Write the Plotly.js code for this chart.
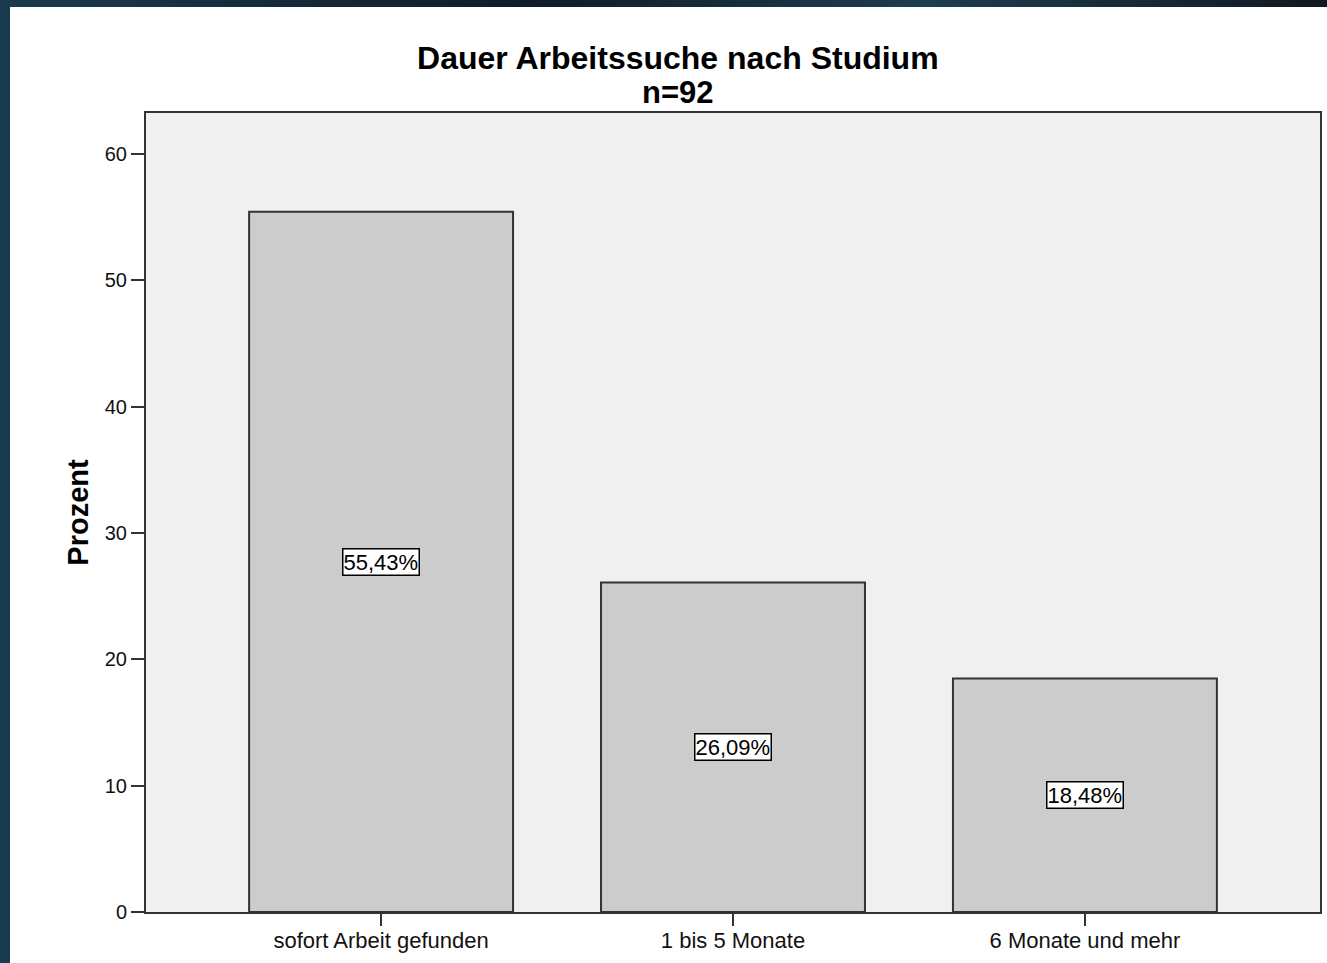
<!DOCTYPE html>
<html>
<head>
<meta charset="utf-8">
<script src="https://cdn.plot.ly/plotly-3.0.1.min.js"></script>
<style>
  html, body { margin: 0; padding: 0; width: 1327px; height: 963px; overflow: hidden;
    background: linear-gradient(90deg, #1a3a4e 0%, #0f1c28 40%, #1d3d50 70%, #101820 100%); }
  #chart { position: absolute; left: 10px; top: 7px; width: 1317px; height: 956px; background: #fff; }
</style>
</head>
<body>
<div id="chart"></div>
<script>
const categories = ["sofort Arbeit gefunden", "1 bis 5 Monate", "6 Monate und mehr"];
const percentValues = [55.43, 26.09, 18.48];
const yTickValues = [0, 10, 20, 30, 40, 50, 60];
const chartTitle = "Dauer Arbeitssuche nach Studium";
const chartSubtitle = "n=92";
const yAxisTitle = "Prozent";

const FONT = 'Liberation Sans, Arial, sans-serif';
const labelText = percentValues.map(v => v.toFixed(2).replace('.', ',') + '%');

const trace = {
  type: 'bar',
  x: categories,
  y: percentValues,
  width: 0.75,
  marker: { color: '#cccccc', line: { color: '#333333', width: 2 } },
  hoverinfo: 'none'
};

const annotations = categories.map((c, i) => ({
  x: c, y: percentValues[i] / 2, xref: 'x', yref: 'y',
  text: labelText[i], showarrow: false,
  font: { family: FONT, size: 22, color: '#000' },
  bgcolor: '#ffffff', bordercolor: '#000000', borderwidth: 1.5, borderpad: 0
}));

annotations.push({
  text: chartSubtitle, showarrow: false,
  xref: 'paper', x: 0.453, xanchor: 'center',
  yref: 'paper', y: 1 + (106 - 86) / 799, yanchor: 'middle',
  font: { family: FONT, size: 31, color: '#000', weight: 'bold' }
});

const layout = {
  width: 1317, height: 956,
  margin: { l: 136, r: 7, t: 106, b: 51 },
  paper_bgcolor: '#ffffff',
  plot_bgcolor: '#f0f0f0',
  showlegend: false,
  title: {
    text: chartTitle,
    font: { family: FONT, size: 32, color: '#000', weight: 'bold' },
    x: 0.453, xref: 'paper', xanchor: 'center',
    y: 1 - 51 / 956, yref: 'container', yanchor: 'middle'
  },
  xaxis: {
    type: 'category',
    range: [-0.668, 2.668],
    showline: true, mirror: true, linecolor: '#333333', linewidth: 2,
    ticks: 'outside', ticklen: 12, tickwidth: 2, tickcolor: '#333333',
    ticklabelstandoff: -4,
    showgrid: false, zeroline: false,
    tickfont: { family: FONT, size: 22, color: '#111' }
  },
  yaxis: {
    range: [0, 63.25],
    tickvals: yTickValues,
    showline: true, mirror: true, linecolor: '#333333', linewidth: 2,
    ticks: 'outside', ticklen: 13, tickwidth: 2, tickcolor: '#333333',
    showgrid: false, zeroline: false,
    tickfont: { family: FONT, size: 20, color: '#111' },
    title: {
      text: yAxisTitle, standoff: 8,
      font: { family: FONT, size: 29, color: '#000', weight: 'bold' }
    }
  },
  annotations: annotations
};

Plotly.newPlot('chart', [trace], layout, { displayModeBar: false, staticPlot: true });
</script>
</body>
</html>
